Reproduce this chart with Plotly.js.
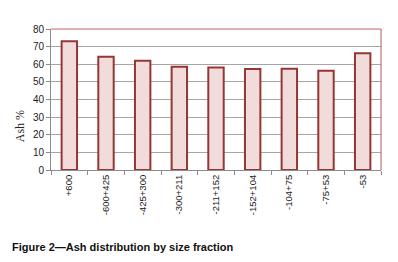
<!DOCTYPE html>
<html>
<head>
<meta charset="utf-8">
<script src="https://cdn.plot.ly/plotly-3.0.1.min.js"></script>
<style>html,body{margin:0;padding:0;background:#fff;}#chart{width:398px;height:262px;}</style>
</head>
<body>
<div id="chart"></div>
<script>
const categories = ["+600", "-600+425", "-425+300", "-300+211", "-211+152", "-152+104", "-104+75", "-75+53", "-53"];
const ashValues = [73.0, 64.3, 62.0, 58.6, 58.2, 57.3, 57.5, 56.3, 66.2];
const yTickValues = [0, 10, 20, 30, 40, 50, 60, 70, 80];

const trace = {
  type: "bar",
  x: categories,
  y: ashValues,
  marker: { color: "#f2dcdb", line: { color: "#953735", width: 2 } },
  hoverinfo: "skip"
};

const layout = {
  width: 398, height: 262,
  margin: { l: 51, r: 17, t: 29, b: 92 },
  paper_bgcolor: "#ffffff", plot_bgcolor: "#ffffff",
  bargap: 0.58,
  showlegend: false,
  font: { family: "Liberation Sans, Arial, sans-serif", size: 9, color: "#222" },
  xaxis: {
    type: "category",
    tickson: "boundaries",
    ticks: "outside", ticklen: 4, tickcolor: "#8c8c8c", tickwidth: 1,
    showline: true, linecolor: "#8c8c8c", linewidth: 1,
    tickangle: -90,
    tickfont: { size: 9.5, color: "#222" },
    showgrid: false, zeroline: false,
    fixedrange: true
  },
  yaxis: {
    range: [0, 80],
    tickvals: yTickValues,
    ticks: "outside", ticklen: 4, tickcolor: "#8c8c8c",
    showline: true, linecolor: "#8c8c8c", linewidth: 1,
    showgrid: true, gridcolor: "#a6a6a6", gridwidth: 1,
    zeroline: false,
    tickfont: { size: 10, color: "#222" },
    fixedrange: true
  },
  shapes: [
    { type: "line", xref: "paper", yref: "paper", x0: 0, x1: 1, y0: 1, y1: 1, line: { color: "#d99694", width: 1.5 } },
    { type: "line", xref: "paper", yref: "paper", x0: 1, x1: 1, y0: 0, y1: 1, line: { color: "#b35a57", width: 1 } }
  ],
  annotations: [
    { text: "Ash %", xref: "paper", yref: "paper", x: -0.094, y: 0.31, xanchor: "center", yanchor: "middle",
      textangle: -90, showarrow: false, font: { family: "Liberation Serif, Times New Roman, serif", size: 12, color: "#222" } },
    { text: "<b>Figure 2\u2014Ash distribution by size fraction</b>", xref: "paper", yref: "paper",
      x: -0.124, y: -0.545, xanchor: "left", yanchor: "middle", showarrow: false,
      font: { family: "Liberation Sans, Arial, sans-serif", size: 11, color: "#111" } }
  ]
};

Plotly.newPlot("chart", [trace], layout, { staticPlot: true, displayModeBar: false });
</script>
</body>
</html>
